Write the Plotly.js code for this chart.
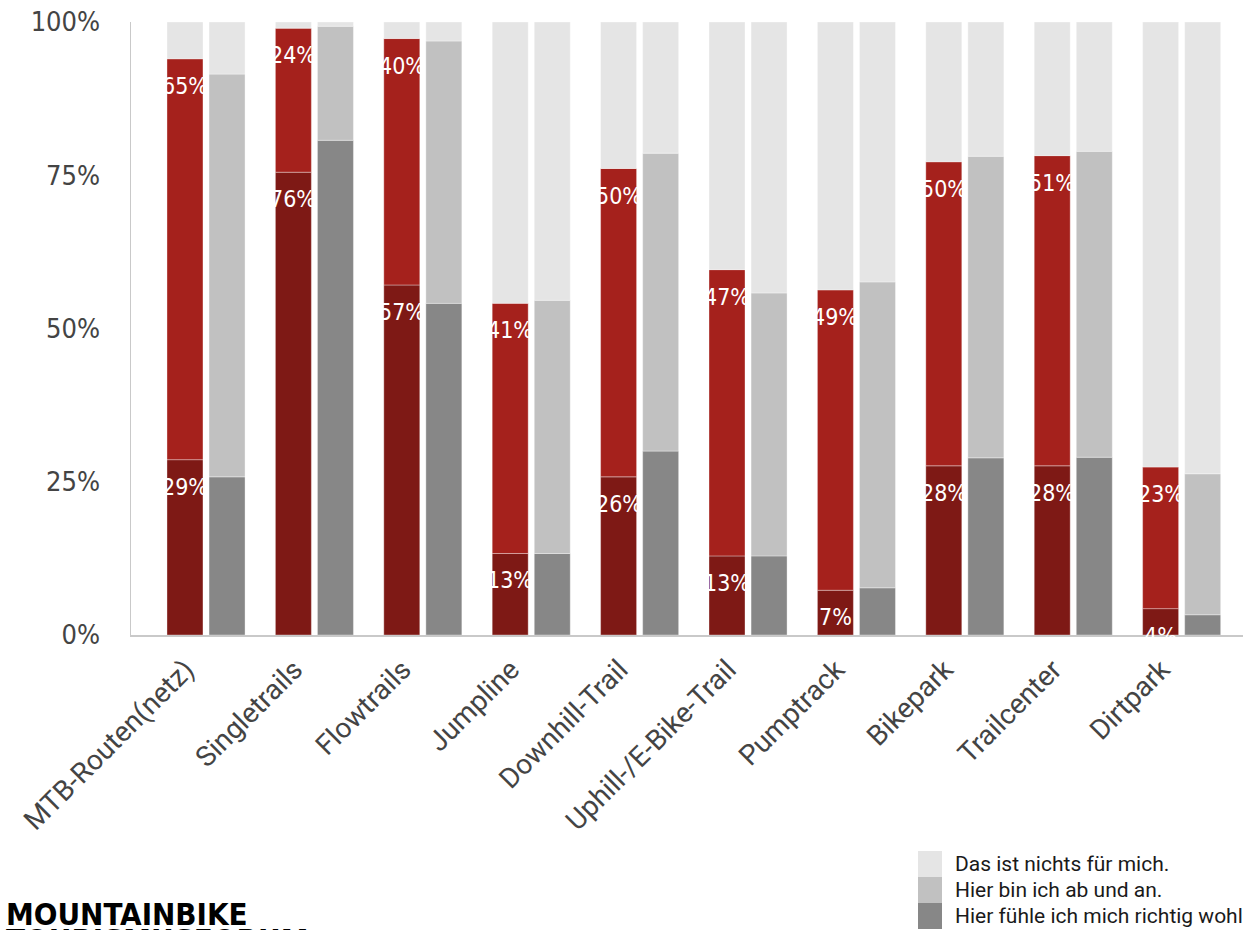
<!DOCTYPE html>
<html>
<head>
<meta charset="utf-8">
<script src="https://cdn.plot.ly/plotly-3.0.1.min.js"></script>
<style>html,body{margin:0;padding:0;background:#fff;}#chart{width:1243px;height:930px;}</style>
</head>
<body>
<div id="chart"></div>
<script>
// ---- data ----
const categories = ["MTB-Routen(netz)", "Singletrails", "Flowtrails", "Jumpline", "Downhill-Trail",
  "Uphill-/E-Bike-Trail", "Pumptrack", "Bikepark", "Trailcenter", "Dirtpark"];
// red group (with labels)
const redWohl = [28.6, 75.5, 57.1, 13.3, 25.8, 12.9, 7.3, 27.6, 27.6, 4.3];
const redAbUndAn = [65.4, 23.5, 40.2, 40.8, 50.3, 46.7, 49.0, 49.6, 50.6, 23.1];
// gray group
const grayWohl = [25.8, 80.7, 54.1, 13.3, 30.0, 12.9, 7.7, 28.9, 29.0, 3.3];
const grayAbUndAn = [65.7, 18.6, 42.8, 41.3, 48.6, 42.9, 49.9, 49.2, 49.9, 23.0];
const legendLabels = ["Das ist nichts für mich.", "Hier bin ich ab und an.", "Hier fühle ich mich richtig wohl."];
const yTickVals = [0, 25, 50, 75, 100];
const logoLines = ["MOUNTAINBIKE", "TOURISMUSFORUM"];

// ---- derived ----
const redNichts = redWohl.map((v, i) => 100 - v - redAbUndAn[i]);
const grayNichts = grayWohl.map((v, i) => 100 - v - grayAbUndAn[i]);
const add = (a, b) => a.map((v, i) => v + b[i]);

const C = {
  darkRed: "#7e1915", red: "#a5211c", light: "#e5e5e5", mid: "#c1c1c1", dark: "#878787"
};
const W = 0.332, OFF_RED = -0.360, OFF_GRAY = 0.028;
const line = {color: "rgba(255,255,255,0.35)", width: 1};

function bar(y, base, color, offset, name) {
  return {type: "bar", x: categories, y: y, base: base, offset: offset, width: W,
    marker: {color: color, line: line}, name: name, showlegend: false, hoverinfo: "skip"};
}
const zeros = categories.map(() => 0);
const traces = [
  bar(redWohl, zeros, C.darkRed, OFF_RED, "rot wohl"),
  bar(redAbUndAn, redWohl, C.red, OFF_RED, "rot ab und an"),
  bar(redNichts, add(redWohl, redAbUndAn), C.light, OFF_RED, "rot nichts"),
  bar(grayWohl, zeros, C.dark, OFF_GRAY, legendLabels[2]),
  bar(grayAbUndAn, grayWohl, C.mid, OFF_GRAY, legendLabels[1]),
  bar(grayNichts, add(grayWohl, grayAbUndAn), C.light, OFF_GRAY, legendLabels[0])
];

// ---- layout helpers ----
const L = 131, R = 0, T = 22, B = 295, FW = 1243, FH = 930;
const px2x = p => (p - L) / (FW - L - R);
const px2y = p => (FH - B - p) / (FH - T - B);
const condensed = "Liberation Sans Narrow, DejaVu Sans Condensed, sans-serif";

const annotations = [];
const labelFont = {family: condensed, size: 23, color: "#ffffff"};
categories.forEach((c, i) => {
  const xc = i + OFF_RED + W / 2;
  annotations.push({x: xc, y: redWohl[i], xref: "x", yref: "y", text: Math.round(redWohl[i]) + "%",
    showarrow: false, yanchor: "middle", yshift: -27, font: labelFont});
  annotations.push({x: xc, y: redWohl[i] + redAbUndAn[i], xref: "x", yref: "y", text: Math.round(redAbUndAn[i]) + "%",
    showarrow: false, yanchor: "middle", yshift: -27, font: labelFont});
});

// custom legend
const legColors = [C.light, C.mid, C.dark];
const shapes = [];
const rowTops = [851, 877, 903];
legendLabels.forEach((t, k) => {
  shapes.push({type: "rect", xref: "paper", yref: "paper", x0: px2x(918), x1: px2x(942),
    y0: px2y(rowTops[k] + 26), y1: px2y(rowTops[k]), fillcolor: legColors[k], line: {width: 0}});
  annotations.push({xref: "paper", yref: "paper", x: px2x(953), y: px2y(rowTops[k] + 13), xanchor: "left", yanchor: "middle",
    text: t, showarrow: false, font: {family: "Roboto, sans-serif", size: 21, color: "#1a1a1a"}});
});
// logo (two lines, tight leading; second line cut by the bottom edge as in the reference)
const logoTops = [895, 921];
logoLines.forEach((t, k) => {
  annotations.push({xref: "paper", yref: "paper", x: px2x(5), y: px2y(logoTops[k]), xanchor: "left", yanchor: "top",
    align: "left", text: "<b>" + t + "</b>", showarrow: false, borderpad: 0,
    font: {family: condensed, size: 31, color: "#000"}});
});

const layout = {
  width: FW, height: FH,
  margin: {l: L, r: R, t: T, b: B, pad: 0},
  paper_bgcolor: "#fff", plot_bgcolor: "#fff",
  barmode: "overlay",
  showlegend: false,
  xaxis: {
    type: "category", range: [-0.692, 9.566], showgrid: false, zeroline: false,
    showline: true, linecolor: "#c9c9c9", linewidth: 2,
    tickangle: -45, ticks: "", ticklabelshift: -20, ticklabelstandoff: 5,
    tickfont: {family: "Roboto, sans-serif", size: 28, color: "#444"}
  },
  yaxis: {
    range: [0, 100], tickvals: yTickVals, ticktext: yTickVals.map(v => v + "%"),
    showgrid: false, zeroline: false, showline: true, linecolor: "#c9c9c9", linewidth: 1.5,
    ticks: "outside", ticklen: 24, tickcolor: "rgba(0,0,0,0)",
    tickfont: {family: condensed, size: 27, color: "#444"}
  },
  shapes: shapes,
  annotations: annotations
};

Plotly.newPlot("chart", traces, layout, {staticPlot: true, displayModeBar: false});
</script>
</body>
</html>
